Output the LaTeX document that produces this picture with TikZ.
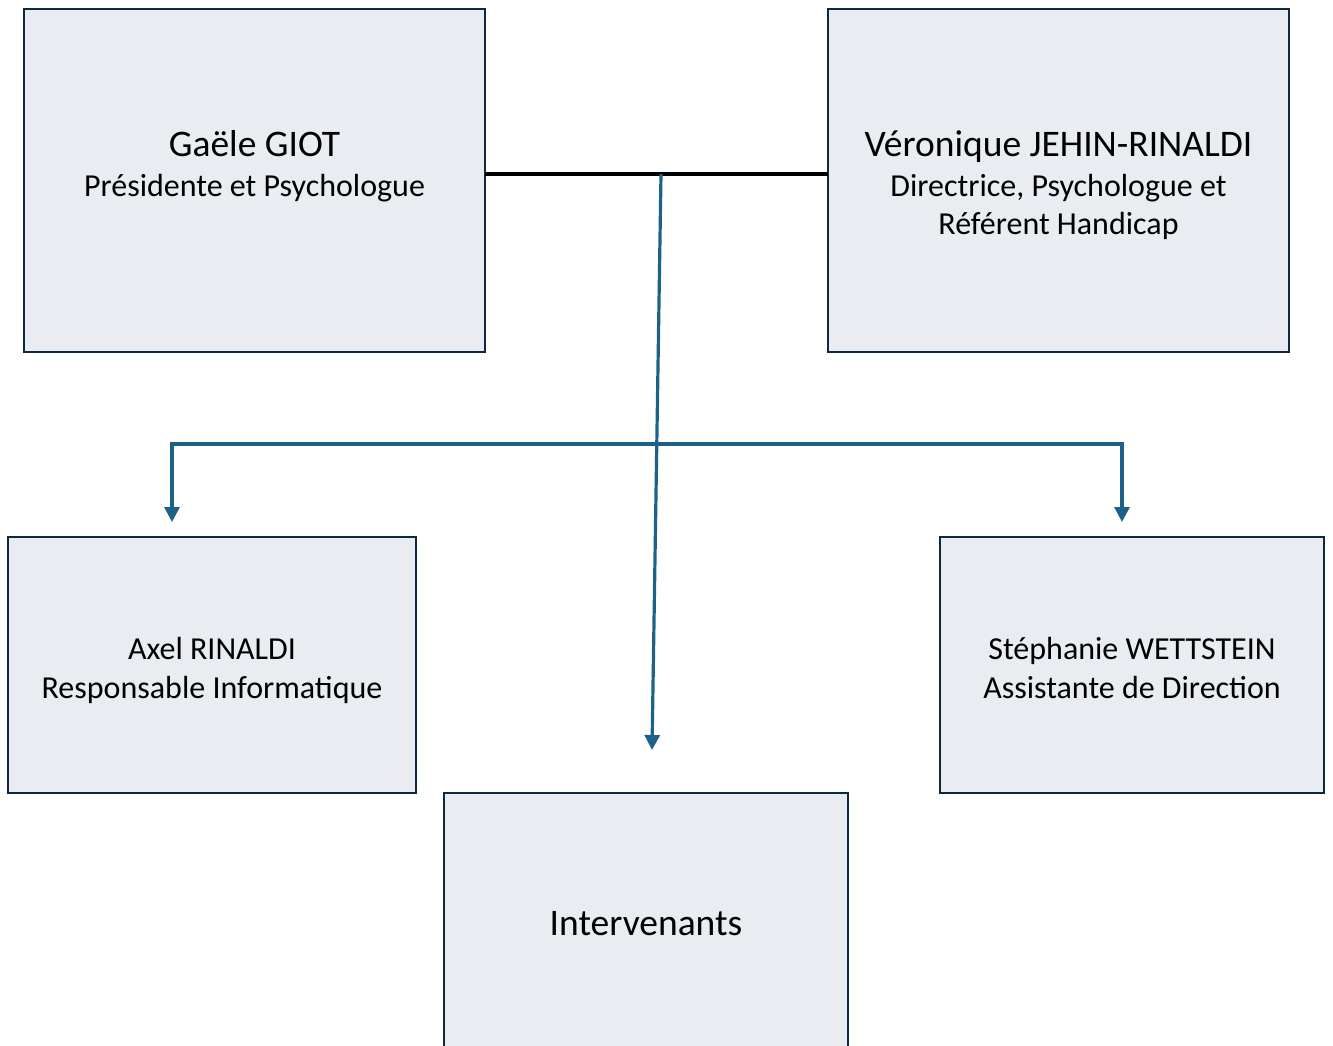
\documentclass[tikz,border=0pt]{standalone}
\usepackage{fontspec}
\setmainfont{Carlito}
\usetikzlibrary{arrows.meta}
\definecolor{boxfill}{HTML}{E9ECF1}
\definecolor{boxline}{HTML}{0E2841}
\definecolor{tealc}{HTML}{1B6286}
\tikzset{
  orgbox/.style={draw=boxline, fill=boxfill, line width=2.8pt, inner sep=0pt, outer sep=0pt},
  lbl/.style={anchor=base, inner sep=0pt, text=black},
  big/.style={font=\fontsize{37.5}{37.5}\selectfont},
  small/.style={font=\fontsize{32}{32}\selectfont},
  tealarrow/.style={draw=tealc, line width=3.2pt, -{Triangle[width=15pt,length=15pt]}},
  tealboth/.style={draw=tealc, line width=3.2pt, {Triangle[width=15pt,length=15pt]}-{Triangle[width=15pt,length=15pt]}},
}
\begin{document}
\begin{tikzpicture}[x=1pt,y=-1pt]
\useasboundingbox (0,0) rectangle (1333,1046);
% boxes
\node[orgbox, minimum width=461pt, minimum height=343pt] (g) at (254.5,180.5) {};
\node[orgbox, minimum width=461pt, minimum height=343pt] (v) at (1058.5,180.5) {};
\node[orgbox, minimum width=408pt, minimum height=256pt] (a) at (212,665) {};
\node[orgbox, minimum width=384pt, minimum height=256pt] (s) at (1132,665) {};
\node[orgbox, minimum width=404pt, minimum height=320pt] (i) at (646,953) {};
% texts
\node[lbl, big] (g1) at (254.5,157) {Gaële GIOT};
\node[lbl, small] (g2) at (254.5,196.5) {Présidente et Psychologue};
\node[lbl, big] (v1) at (1058.5,157) {Véronique JEHIN-RINALDI};
\node[lbl, small] (v2) at (1058.5,196.5) {Directrice, Psychologue et};
\node[lbl, small] (v3) at (1058.5,234.5) {Référent Handicap};
\node[lbl, small] (a1) at (212,659) {Axel RINALDI};
\node[lbl, small] (a2) at (212,698) {Responsable Informatique};
\node[lbl, small] (s1) at (1132,659) {Stéphanie WETTSTEIN};
\node[lbl, small] (s2) at (1132,698) {Assistante de Direction};
\node[lbl, big] (i1) at (646,935) {Intervenants};
% connectors
\coordinate (j) at (661,174);
\coordinate (iend) at (652,750);
\coordinate (hl) at (172,444);
\coordinate (hr) at (1122,444);
\coordinate (aend) at (172,522);
\coordinate (send) at (1122,522);
\draw[black, line width=3.2pt] (g.east |- j) -- (v.west |- j);
\draw[tealarrow] (j) -- (iend);
\draw[tealboth] (aend) -- (hl) -- (hr) -- (send);
\end{tikzpicture}
\end{document}
